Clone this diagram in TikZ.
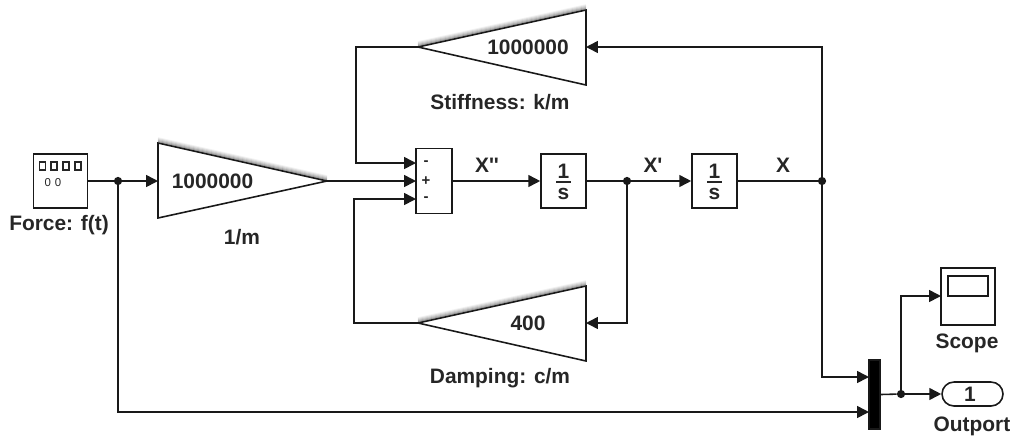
\documentclass[tikz,border=0pt]{standalone}
\usepackage{fontspec}
\setmainfont{Liberation Sans}[Ligatures=TeXOff]
\usetikzlibrary{arrows.meta,calc}
\tikzset{
	blockbox/.style={draw=black!90, line width=0.9pt, fill=white, inner sep=0pt},
	signal/.style={draw=black!90, line width=0.9pt, -{Triangle[length=6.8pt,width=6.8pt]}},
	plainsignal/.style={draw=black!90, line width=0.9pt},
	branchdot/.style={circle, fill=black!90, inner sep=0pt, minimum size=0.165cm},
	boldlabel/.style={font=\fontsize{11.9}{13}\selectfont\bfseries, text=black!85, inner sep=0pt},
	signlabel/.style={font=\fontsize{8.5}{9}\selectfont\bfseries, text=black!85, inner sep=0pt},
}
% top edge blur first, then the triangle on it
\def\gainshape(#1)(#2)(#3){
	\foreach \o/\a in {5/0.05, 4/0.09, 3/0.14, 2/0.2, 1/0.28}
		\draw[line width=0.9pt, black, opacity=\a] ($(#1)+(0,-\o)$) -- ($(#2)+(0,-\o)$);
	\draw[blockbox] (#1) -- (#2) -- (#3) -- cycle;
}
\def\intblock(#1)(#2){
	\node[blockbox, minimum width=0.9cm, minimum height=1.08cm] (#1) at (#2, 181) {};
	\node[boldlabel] (#1one) at (#2, 171.5) {1};
	\node[boldlabel] (#1ess) at (#2, 194) {s};
	\draw[line width=0.9pt, black!85] (#2-7.5, 182) -- (#2+7.5, 182);
}
\begin{document}
\begin{tikzpicture}[x=0.02cm, y=-0.02cm]
	\useasboundingbox (0, 0) rectangle (1015, 437);

	%%%%% BLOCKS %%%%%

	\node[blockbox, minimum width=1.08cm, minimum height=1.08cm] (force) at (60.5, 181) {};
	\foreach \x in {42.5, 54, 66, 78}
		\draw[line width=0.9pt, black!85] (\x-3, 162) rectangle (\x+3, 170);
	\node[font=\fontsize{6.5}{8}\selectfont, text=black!85, inner sep=0pt] (forcezeros) at (53, 183) {0\,\,0};
	\node[boldlabel] (forcelabel) at (59, 225) {Force: f(t)};

	\coordinate (gainmin) at (158, 181);
	\coordinate (gainmtip) at (327, 181);
	\gainshape(158, 143)(327, 181)(158, 218)
	\node[boldlabel] (gainmtext) at (212.5, 181) {1000000};
	\node[boldlabel] (gainmlabel) at (242, 237) {1/m};

	\coordinate (stiffin) at (586, 47);
	\coordinate (stifftip) at (418, 47);
	\gainshape(418, 47)(586, 10)(586, 85)
	\node[boldlabel] (stifftext) at (528, 47) {1000000};
	\node[boldlabel] (stifflabel) at (500, 102) {Stiffness: k/m};

	\coordinate (dampin) at (586, 323);
	\coordinate (damptip) at (418, 323);
	\gainshape(418, 323)(586, 286)(586, 361)
	\node[boldlabel] (damptext) at (528, 323) {400};
	\node[boldlabel] (damplabel) at (500, 378) {Damping: c/m};

	\node[blockbox, minimum width=0.72cm, minimum height=1.3cm] (sum) at (434, 181) {};
	\coordinate (suma) at (416, 163);
	\coordinate (sumb) at (416, 181);
	\coordinate (sumc) at (416, 199);
	\node[signlabel] (signa) at (426, 163) {-};
	\node[signlabel] (signb) at (426, 181) {+};
	\node[signlabel] (signc) at (426, 199) {-};
	\node[boldlabel] (xddot) at (487, 165) {X''};

	\intblock(intone)(563.5)
	\node[boldlabel] (xdot) at (653, 165) {X'};
	\intblock(inttwo)(714.5)
	\node[boldlabel] (xpos) at (783, 165) {X};

	\node[blockbox, fill=black, minimum width=0.22cm, minimum height=1.38cm] (mux) at (874.5, 394.5) {};
	\coordinate (muxa) at (869, 377);
	\coordinate (muxb) at (869, 412);

	\node[blockbox, minimum width=1.08cm, minimum height=1.14cm] (scope) at (968, 296.5) {};
	\draw[line width=0.9pt, black!90] (948, 276) rectangle (988, 296);
	\coordinate (scopein) at (941, 296);
	\node[boldlabel] (scopelabel) at (967, 343) {Scope};

	\node[blockbox, rounded corners=0.24cm, minimum width=1.22cm, minimum height=0.48cm] (outport) at (972.5, 394) {};
	\node[boldlabel] (outnum) at (970, 394) {1};
	\node[boldlabel] (outlabel) at (972, 426) {Outport};

	%%%%% BRANCH POINTS %%%%%

	\node[branchdot] (forcedot) at (118, 181) {};
	\node[branchdot] (veldot) at (627, 181) {};
	\node[branchdot] (posdot) at (822, 181) {};
	\node[branchdot] (muxdot) at (901, 394) {};

	%%%%% LINES %%%%%

	\draw[plainsignal] (force.east) -- (forcedot);
	\draw[signal] (forcedot) -- (gainmin);
	\draw[signal] (gainmtip) -- (sumb);
	\draw[signal] (stifftip) -- (356, 47) -- (356, 163) -- (suma);
	\draw[signal] (damptip) -- (354, 323) -- (354, 199) -- (sumc);
	\draw[signal] (sum.east) -- (intone.west);
	\draw[plainsignal] (intone.east) -- (veldot);
	\draw[signal] (veldot) -- (inttwo.west);
	\draw[signal] (veldot) -- (dampin -| veldot) -- (dampin);
	\draw[plainsignal] (inttwo.east) -- (posdot);
	\draw[signal] (posdot) -- (stiffin -| posdot) -- (stiffin);
	\draw[signal] (posdot) -- (muxa -| posdot) -- (muxa);
	\draw[signal] (forcedot) -- (muxb -| forcedot) -- (muxb);
	\draw[plainsignal] (mux.east) -- (muxdot);
	\draw[signal] (muxdot) -- (outport.west);
	\draw[signal] (muxdot) -- (scopein -| muxdot) -- (scopein);
\end{tikzpicture}
\end{document}
